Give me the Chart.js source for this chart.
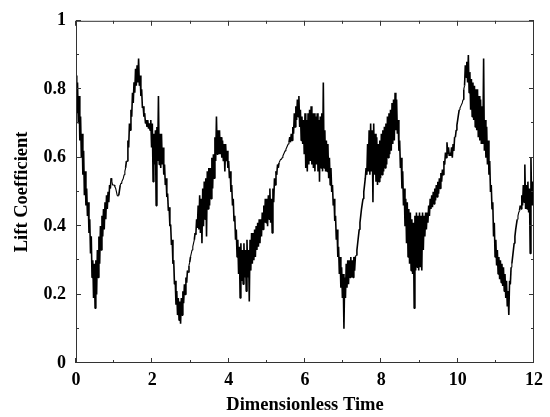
<!DOCTYPE html>
<html>
<head>
<meta charset="utf-8">
<script src="https://cdn.jsdelivr.net/npm/chart.js@4.4.0/dist/chart.umd.min.js"></script>
<style>
  html, body { margin: 0; padding: 0; background: #fff; }
  #wrap { width: 550px; height: 417px; }
</style>
</head>
<body>
<div id="wrap"><canvas id="liftChart" width="550" height="417"></canvas></div>
<script>
// lift coefficient, one sample every 0.02 time units (t = 0 .. 12)
// one row per half time unit
const timeStep = 0.02;
const liftCoeff = [
  0.84, 0.73, 0.82, 0.70, 0.78, 0.65, 0.72, 0.60, 0.67, 0.55, 0.62, 0.49, 0.56, 0.46, 0.51, 0.43, 0.47, 0.38, 0.42, 0.32, 0.37, 0.25, 0.30, 0.19, 0.29,
  0.16, 0.30, 0.20, 0.33, 0.25, 0.37, 0.29, 0.40, 0.33, 0.43, 0.37, 0.45, 0.39, 0.47, 0.42, 0.49, 0.45, 0.50, 0.47, 0.52, 0.51, 0.54, 0.53, 0.52, 0.52,
  0.52, 0.515, 0.51, 0.50, 0.49, 0.488, 0.49, 0.505, 0.52, 0.525, 0.53, 0.535, 0.54, 0.55, 0.56, 0.57, 0.59, 0.59, 0.65, 0.63, 0.70, 0.68, 0.74, 0.72, 0.79,
  0.76, 0.82, 0.79, 0.86, 0.81, 0.87, 0.82, 0.89, 0.81, 0.84, 0.78, 0.80, 0.745, 0.75, 0.72, 0.73, 0.70, 0.71, 0.69, 0.71, 0.685, 0.70, 0.68, 0.71, 0.63,
  0.70, 0.53, 0.67, 0.58, 0.68, 0.46, 0.69, 0.59, 0.78, 0.58, 0.67, 0.57, 0.67, 0.58, 0.63, 0.55, 0.58, 0.52, 0.54, 0.485, 0.495, 0.445, 0.455, 0.40, 0.405,
  0.345, 0.36, 0.29, 0.30, 0.23, 0.24, 0.17, 0.21, 0.14, 0.19, 0.125, 0.18, 0.115, 0.19, 0.14, 0.21, 0.175, 0.23, 0.20, 0.25, 0.235, 0.27, 0.265, 0.285, 0.295,
  0.31, 0.32, 0.33, 0.34, 0.35, 0.36, 0.38, 0.375, 0.42, 0.395, 0.46, 0.39, 0.49, 0.38, 0.48, 0.35, 0.51, 0.40, 0.53, 0.42, 0.54, 0.37, 0.56, 0.45, 0.57,
  0.46, 0.57, 0.48, 0.60, 0.51, 0.61, 0.54, 0.66, 0.59, 0.72, 0.61, 0.68, 0.61, 0.68, 0.61, 0.66, 0.60, 0.65, 0.59, 0.64, 0.56, 0.64, 0.59, 0.62, 0.57,
  0.59, 0.54, 0.56, 0.50, 0.52, 0.46, 0.48, 0.415, 0.43, 0.36, 0.39, 0.31, 0.36, 0.26, 0.34, 0.19, 0.35, 0.24, 0.33, 0.23, 0.35, 0.25, 0.33, 0.21, 0.36,
  0.25, 0.33, 0.18, 0.36, 0.27, 0.38, 0.29, 0.38, 0.30, 0.39, 0.31, 0.40, 0.33, 0.41, 0.34, 0.42, 0.35, 0.42, 0.37, 0.44, 0.39, 0.46, 0.41, 0.48, 0.41,
  0.48, 0.40, 0.49, 0.42, 0.51, 0.41, 0.48, 0.38, 0.51, 0.47, 0.54, 0.52, 0.56, 0.55, 0.58, 0.57, 0.585, 0.585, 0.595, 0.595, 0.60, 0.605, 0.61, 0.615, 0.62,
  0.625, 0.63, 0.635, 0.64, 0.645, 0.66, 0.645, 0.67, 0.65, 0.69, 0.67, 0.73, 0.69, 0.75, 0.71, 0.77, 0.72, 0.78, 0.69, 0.74, 0.65, 0.72, 0.64, 0.71, 0.61,
  0.73, 0.57, 0.71, 0.56, 0.73, 0.58, 0.74, 0.59, 0.75, 0.58, 0.73, 0.57, 0.73, 0.56, 0.72, 0.58, 0.73, 0.56, 0.71, 0.53, 0.72, 0.57, 0.73, 0.56, 0.82,
  0.57, 0.68, 0.56, 0.65, 0.56, 0.64, 0.54, 0.60, 0.52, 0.57, 0.50, 0.52, 0.46, 0.48, 0.415, 0.43, 0.36, 0.39, 0.31, 0.34, 0.26, 0.31, 0.22, 0.28, 0.19,
  0.26, 0.10, 0.25, 0.19, 0.29, 0.22, 0.30, 0.23, 0.30, 0.25, 0.31, 0.25, 0.30, 0.25, 0.31, 0.27, 0.31, 0.315, 0.33, 0.35, 0.37, 0.39, 0.41, 0.43, 0.45,
  0.465, 0.48, 0.50, 0.52, 0.54, 0.57, 0.55, 0.64, 0.56, 0.68, 0.55, 0.70, 0.56, 0.68, 0.47, 0.70, 0.55, 0.67, 0.53, 0.66, 0.52, 0.64, 0.53, 0.65, 0.54,
  0.67, 0.55, 0.68, 0.56, 0.69, 0.57, 0.70, 0.58, 0.72, 0.60, 0.73, 0.61, 0.74, 0.62, 0.76, 0.64, 0.77, 0.65, 0.79, 0.68, 0.77, 0.67, 0.71, 0.62, 0.65,
  0.57, 0.60, 0.51, 0.56, 0.46, 0.51, 0.40, 0.48, 0.35, 0.47, 0.31, 0.45, 0.29, 0.44, 0.27, 0.42, 0.26, 0.41, 0.16, 0.43, 0.27, 0.44, 0.28, 0.43, 0.27,
  0.44, 0.28, 0.43, 0.27, 0.44, 0.33, 0.43, 0.37, 0.44, 0.39, 0.44, 0.41, 0.46, 0.43, 0.48, 0.45, 0.49, 0.455, 0.50, 0.465, 0.51, 0.475, 0.52, 0.485, 0.53,
  0.495, 0.54, 0.51, 0.555, 0.53, 0.565, 0.55, 0.59, 0.58, 0.615, 0.60, 0.645, 0.61, 0.63, 0.605, 0.615, 0.605, 0.63, 0.60, 0.64, 0.62, 0.66, 0.66, 0.68, 0.695,
  0.71, 0.725, 0.74, 0.745, 0.75, 0.755, 0.76, 0.77, 0.80, 0.81, 0.87, 0.835, 0.88, 0.82, 0.90, 0.79, 0.85, 0.74, 0.83, 0.72, 0.82, 0.71, 0.81, 0.69, 0.80,
  0.68, 0.80, 0.66, 0.78, 0.65, 0.77, 0.64, 0.75, 0.64, 0.89, 0.62, 0.71, 0.60, 0.69, 0.58, 0.65, 0.55, 0.59, 0.50, 0.52, 0.45, 0.47, 0.37, 0.41, 0.31,
  0.36, 0.285, 0.33, 0.26, 0.31, 0.245, 0.30, 0.235, 0.29, 0.225, 0.28, 0.21, 0.26, 0.19, 0.24, 0.165, 0.21, 0.14, 0.24, 0.23, 0.28, 0.29, 0.31, 0.33, 0.35,
  0.37, 0.39, 0.405, 0.42, 0.43, 0.44, 0.445, 0.46, 0.45, 0.49, 0.46, 0.52, 0.47, 0.58, 0.45, 0.52, 0.45, 0.53, 0.44, 0.51, 0.32, 0.60, 0.46, 0.53, 0.46,
  0.50
];

const xMajorTicks = [0, 2, 4, 6, 8, 10, 12];
const xMinorTicks = [1, 3, 5, 7, 9, 11];
const yMajorTicks = [0, 0.2, 0.4, 0.6, 0.8, 1];
const yTickLabels = ['0', '0.2', '0.4', '0.6', '0.8', '1'];
const yMinorTicks = [0.1, 0.3, 0.5, 0.7, 0.9];

const points = liftCoeff.map((v, i) => ({ x: +(i * timeStep).toFixed(2), y: v }));

const serif = "'Liberation Serif', 'Times New Roman', serif";
const tickFont = { family: serif, size: 18, weight: 'bold', lineHeight: 1.2 };
const titleFont = { family: serif, size: 18.5, weight: 'bold', lineHeight: 1.2 };

// frame with inward ticks on all four sides
const frameTicks = {
  id: 'frameTicks',
  afterDatasetsDraw(chart) {
    const { ctx, chartArea: a, scales } = chart;
    ctx.save();
    ctx.strokeStyle = '#333';
    ctx.lineWidth = 1;
    ctx.beginPath();
    const vTick = (v, len) => {
      const px = Math.round(scales.x.getPixelForValue(v)) - 0.5;
      ctx.moveTo(px, a.bottom); ctx.lineTo(px, a.bottom - len);
      ctx.moveTo(px, a.top); ctx.lineTo(px, a.top + len);
    };
    const hTick = (v, len) => {
      const py = Math.round(scales.y.getPixelForValue(v)) - 0.5;
      ctx.moveTo(a.left, py); ctx.lineTo(a.left + len, py);
      ctx.moveTo(a.right, py); ctx.lineTo(a.right - len, py);
    };
    xMajorTicks.forEach(v => vTick(v, 5));
    xMinorTicks.forEach(v => vTick(v, 3));
    yMajorTicks.forEach(v => hTick(v, 5));
    yMinorTicks.forEach(v => hTick(v, 3));
    ctx.stroke();
    ctx.strokeRect(a.left + 0.5, a.top + 0.5, a.right - a.left - 1, a.bottom - a.top - 1);
    ctx.restore();
  }
};

const ctx = document.getElementById('liftChart').getContext('2d');
new Chart(ctx, {
  type: 'line',
  data: {
    datasets: [{
      data: points,
      borderColor: '#000',
      borderWidth: 1,
      borderJoinStyle: 'bevel',
      pointRadius: 0,
      tension: 0,
      fill: false,
      // the noisy stretches read as solid black in the original
      segment: { borderWidth: c => Math.abs(c.p1.y - c.p0.y) > 4 ? 1.6 : 1.1 }
    }]
  },
  options: {
    responsive: false,
    animation: false,
    parsing: false,
    layout: { padding: { left: 0, right: 13, top: 12, bottom: 0 } },
    plugins: { legend: { display: false }, tooltip: { enabled: false } },
    scales: {
      x: {
        type: 'linear', min: 0, max: 12,
        afterBuildTicks: s => { s.ticks = xMajorTicks.map(v => ({ value: v })); },
        afterFit: s => { s.height = 54; },
        grid: { display: false, drawTicks: false },
        border: { display: false },
        ticks: { padding: 7, color: '#000', font: tickFont, maxRotation: 0, autoSkip: false },
        title: { display: true, text: 'Dimensionless Time', color: '#000', font: titleFont, padding: { top: 0, bottom: 1 } }
      },
      y: {
        type: 'linear', min: 0, max: 1,
        afterBuildTicks: s => { s.ticks = yMajorTicks.map(v => ({ value: v })); },
        afterFit: s => { s.width = 76; },
        grid: { display: false, drawTicks: false },
        border: { display: false },
        ticks: { padding: 10, color: '#000', font: tickFont, autoSkip: false, callback: (v, i) => yTickLabels[i] },
        title: { display: true, text: 'Lift Coefficient', color: '#000', font: titleFont, padding: { top: 11, bottom: 0 } }
      }
    }
  },
  plugins: [frameTicks]
});
</script>
</body>
</html>
